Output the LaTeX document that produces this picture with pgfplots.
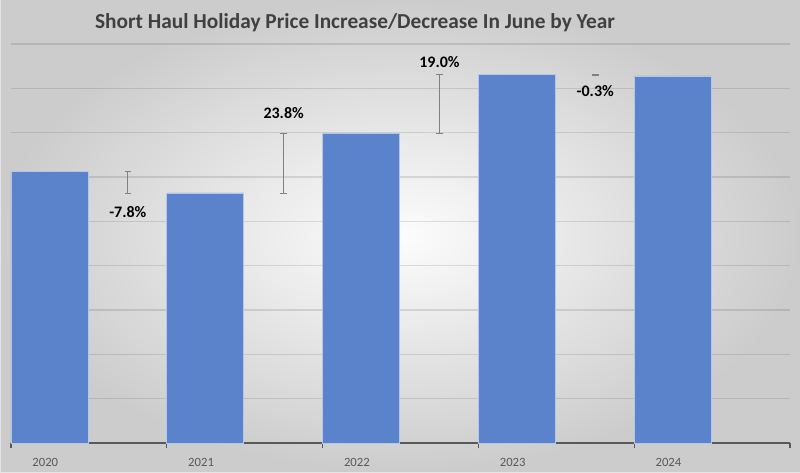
\documentclass[border=0pt]{standalone}
\usepackage{fontspec}
\setmainfont{Carlito}
\usepackage{pgfplots}
\pgfplotsset{compat=1.18}
\definecolor{barblue}{HTML}{5B83CB}
\definecolor{titlegray}{HTML}{404040}
\definecolor{axgray}{HTML}{595959}
\begin{document}
\begin{tikzpicture}
\shade[inner color=black!1, outer color=black!20] (0pt,0pt) rectangle (600pt,354pt);
\draw[black!10, line width=0.75pt] (0pt,0pt) rectangle (600pt,354pt);
\node[font=\fontsize{16}{18}\selectfont\bfseries, text=titlegray] at (266.25pt,337pt) {Short Haul Holiday Price Increase/Decrease In June by Year};
\begin{axis}[
  at={(8.25pt,21.75pt)}, anchor=south west,
  scale only axis, width=584.25pt, height=299.25pt,
  xmin=0, xmax=5, ymin=0, ymax=900,
  axis x line*=bottom, axis y line*=left,
  y axis line style={draw=none},
  x axis line style={draw=axgray, line width=0.8pt},
  ytick={100,200,...,900}, yticklabels={}, ytick style={draw=none},
  yticklabel style={inner sep=0pt},
  ymajorgrids, grid style={black, opacity=0.11, line width=0.8pt},
  xtick={0.22,1.22,2.22,3.22,4.22},
  xticklabels={2020,2021,2022,2023,2024},
  major x tick style={draw=none},
  minor xtick={0,1,2,3,4,5},
  minor x tick style={draw=axgray, line width=0.8pt},
  minor tick length=4pt, tick align=outside,
  xticklabel style={font=\fontsize{9.5}{11}\selectfont, text=axgray, yshift=-4pt},
  clip=false,
]
\addplot[ybar, bar width=0.494, bar shift=0pt, fill=barblue, draw=white!55!barblue, line width=0.5pt]
  coordinates {(0.247,612) (1.247,564) (2.247,698) (3.247,831) (4.247,828)};
\addplot[draw=none, mark=none, error bars/.cd, y dir=both, y explicit,
  error bar style={black!50, line width=0.7pt},
  error mark options={black!50, rotate=90, mark size=2.5pt, line width=0.7pt}]
  coordinates {(0.75,588) +- (0,24) (1.75,631) +- (0,67) (2.75,764.5) +- (0,66.5) (3.75,830) +- (0,0.5)};
\addplot[only marks, mark=none, point meta=explicit symbolic, nodes near coords,
  every node near coord/.append style={anchor=center, font=\fontsize{12}{14}\selectfont\bfseries, text=black}]
  coordinates {(0.75,521) [-7.8\%] (1.75,744) [23.8\%] (2.75,859) [19.0\%] (3.75,794) [-0.3\%]};
\end{axis}
\pgfresetboundingbox
\path[use as bounding box] (0pt,0pt) rectangle (600pt,354pt);
\end{tikzpicture}
\end{document}
